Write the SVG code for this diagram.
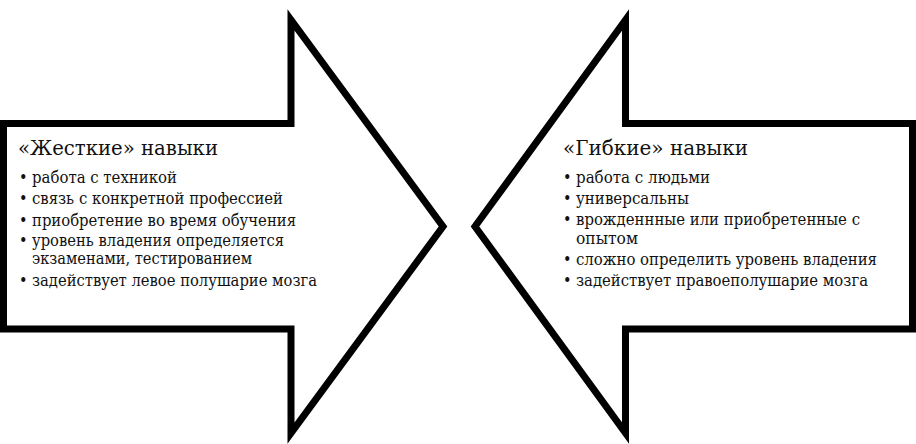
<svg xmlns="http://www.w3.org/2000/svg" width="916" height="444" viewBox="0 0 916 444">
<style>
.arrow{fill:#fff;stroke:#000;stroke-width:7;stroke-linejoin:miter;stroke-miterlimit:10}
.h{font-size:20px}
.b{font-size:16px}
</style>
<rect width="916" height="444" fill="#fff"/>
<g id="hard" font-family="DejaVu Serif Condensed, DejaVu Serif, serif" font-stretch="condensed" fill="#111">
<polygon class="arrow" points="3.5,123.5 291,123.5 291,20 443,226.5 291,433 291,329 3.5,329"/>
<text class="h" x="18" y="155" textLength="200" lengthAdjust="spacingAndGlyphs">«Жесткие» навыки</text>
<g class="b">
<text x="19" y="183">•</text><text x="32" y="183" textLength="145" lengthAdjust="spacingAndGlyphs">работа с техникой</text>
<text x="19" y="204">•</text><text x="32" y="204" textLength="251" lengthAdjust="spacingAndGlyphs">связь с конкретной профессией</text>
<text x="19" y="226">•</text><text x="32" y="226" textLength="264" lengthAdjust="spacingAndGlyphs">приобретение во время обучения</text>
<text x="19" y="246">•</text><text x="32" y="246" textLength="252" lengthAdjust="spacingAndGlyphs">уровень владения определяется</text>
<text x="32" y="264" textLength="220" lengthAdjust="spacingAndGlyphs">экзаменами, тестированием</text>
<text x="19" y="286">•</text><text x="32" y="286" textLength="285" lengthAdjust="spacingAndGlyphs">задействует левое полушарие мозга</text>
</g>
</g>
<g id="soft" font-family="DejaVu Serif Condensed, DejaVu Serif, serif" font-stretch="condensed" fill="#111">
<polygon class="arrow" points="912.5,123.5 625.5,123.5 625.5,20 475,226.5 625.5,433 625.5,329 912.5,329"/>
<text class="h" x="563" y="155" textLength="185" lengthAdjust="spacingAndGlyphs">«Гибкие» навыки</text>
<g class="b">
<text x="563" y="183">•</text><text x="576" y="183" textLength="134" lengthAdjust="spacingAndGlyphs">работа с людьми</text>
<text x="563" y="204">•</text><text x="576" y="204" textLength="113" lengthAdjust="spacingAndGlyphs">универсальны</text>
<text x="563" y="225">•</text><text x="576" y="225" textLength="284" lengthAdjust="spacingAndGlyphs">врожденнные или приобретенные с</text>
<text x="576" y="244" textLength="62" lengthAdjust="spacingAndGlyphs">опытом</text>
<text x="563" y="265">•</text><text x="576" y="265" textLength="301" lengthAdjust="spacingAndGlyphs">сложно определить уровень владения</text>
<text x="563" y="286">•</text><text x="576" y="286" textLength="292" lengthAdjust="spacingAndGlyphs">задействует правоеполушарие мозга</text>
</g>
</g>
<g id="connectors"></g>
</svg>
